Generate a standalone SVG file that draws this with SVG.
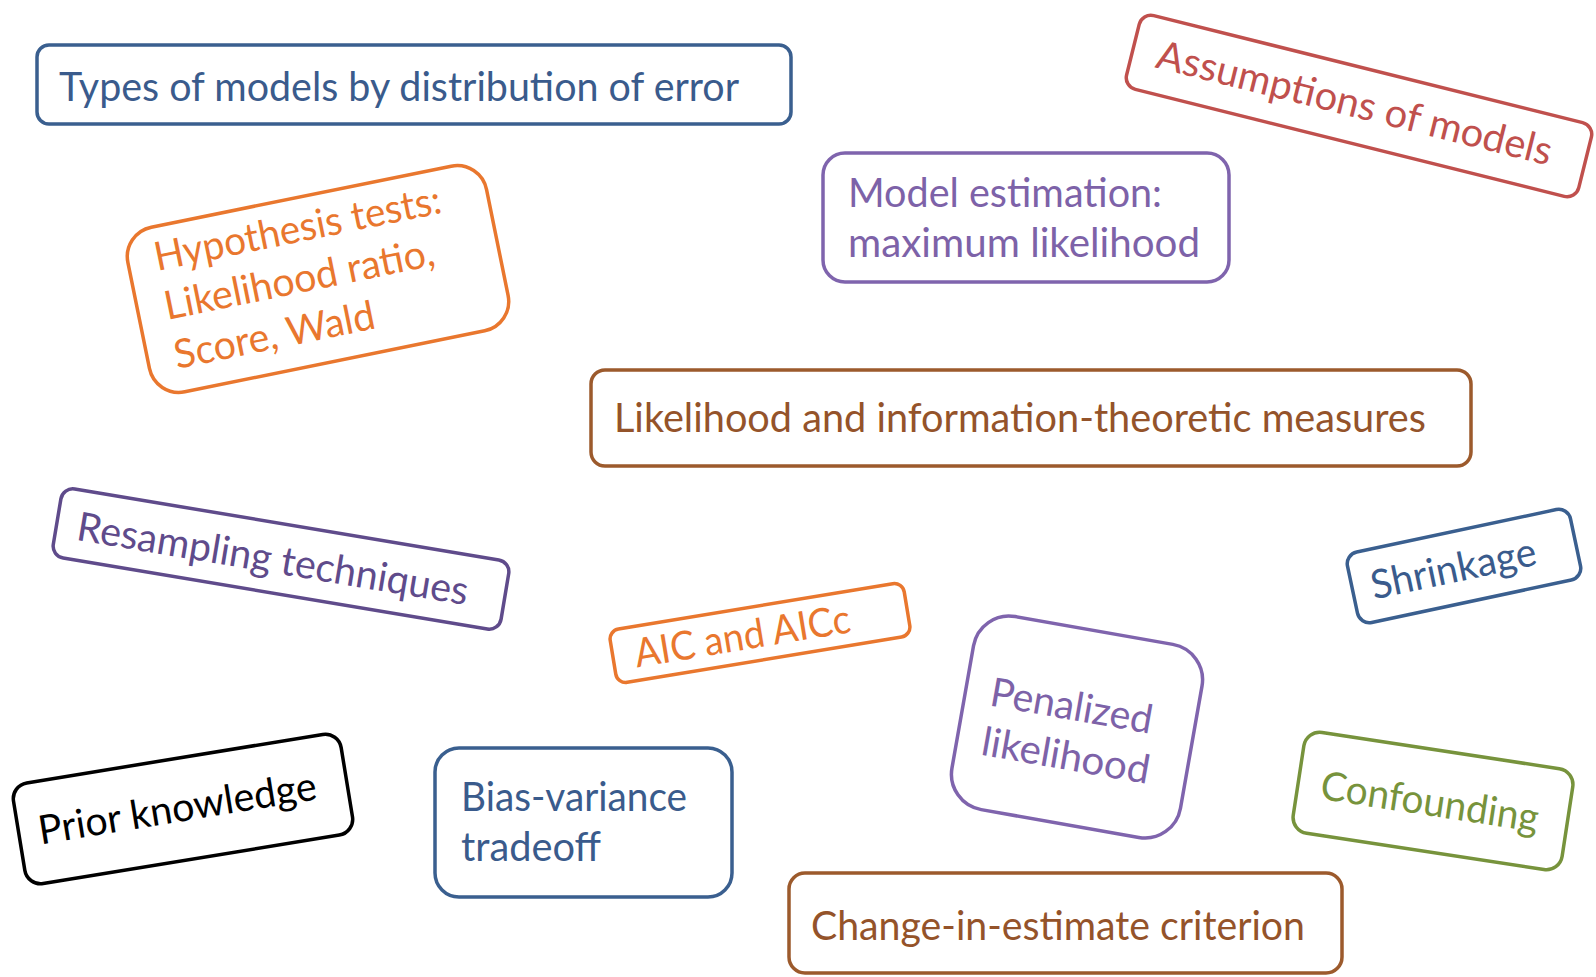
<svg xmlns="http://www.w3.org/2000/svg" width="1596" height="977" viewBox="0 0 1596 977">
  <style>
    .box { fill: #ffffff; stroke-width: 3.5; }
    .lbl { font-family: Lato, "Liberation Sans", sans-serif; font-size: 40px; }
    .blue   { stroke: #3a5f8f; } .t-blue   { fill: #3a5b8c; }
    .red    { stroke: #c0504d; } .t-red    { fill: #c0504d; }
    .orange { stroke: #e9772e; } .t-orange { fill: #e9772e; }
    .purple { stroke: #7f64ad; } .t-purple { fill: #7d62a8; }
    .grape  { stroke: #5f4b8b; } .t-grape  { fill: #5f4b8b; }
    .brown  { stroke: #9c5a2c; } .t-brown  { fill: #94532a; }
    .green  { stroke: #77933c; } .t-green  { fill: #77933c; }
    .black  { stroke: #000000; } .t-black  { fill: #000000; }
  </style>

  <rect x="0" y="0" width="1596" height="977" fill="#ffffff"/>

  <!-- no links between the topics -->
  <g id="connectors"/>

  <g id="types-of-models">
    <rect class="box blue" x="37" y="45" width="754" height="79" rx="12"/>
    <text class="lbl t-blue" x="59" y="101" textLength="680" lengthAdjust="spacingAndGlyphs">Types of models by distribution of error</text>
  </g>

  <g id="assumptions" transform="translate(1359,106) rotate(14)">
    <rect class="box red" x="-233" y="-38" width="466" height="76" rx="12"/>
    <text class="lbl t-red" x="-208" y="12" textLength="406" lengthAdjust="spacingAndGlyphs">Assumptions of models</text>
  </g>

  <g id="hypothesis-tests" transform="translate(318,279) rotate(-11.5)">
    <rect class="box orange" x="-183" y="-84" width="366" height="168" rx="30"/>
    <text class="lbl t-orange" x="-156" y="-40" textLength="292" lengthAdjust="spacingAndGlyphs">Hypothesis tests:</text>
    <text class="lbl t-orange" x="-156" y="10" textLength="275" lengthAdjust="spacingAndGlyphs">Likelihood ratio,</text>
    <text class="lbl t-orange" x="-156" y="60" textLength="204" lengthAdjust="spacingAndGlyphs">Score, Wald</text>
  </g>

  <g id="model-estimation">
    <rect class="box purple" x="823" y="153" width="406" height="129" rx="22"/>
    <text class="lbl t-purple" x="848" y="207" textLength="314" lengthAdjust="spacingAndGlyphs">Model estimation:</text>
    <text class="lbl t-purple" x="848" y="257" textLength="352" lengthAdjust="spacingAndGlyphs">maximum likelihood</text>
  </g>

  <g id="likelihood-measures">
    <rect class="box brown" x="591" y="370" width="880" height="96" rx="14"/>
    <text class="lbl t-brown" x="614" y="432" textLength="812" lengthAdjust="spacingAndGlyphs">Likelihood and information-theoretic measures</text>
  </g>

  <g id="resampling" transform="translate(281,559) rotate(9.5)">
    <rect class="box grape" x="-227" y="-35" width="454" height="70" rx="12"/>
    <text class="lbl t-grape" x="-206" y="15" textLength="396" lengthAdjust="spacingAndGlyphs">Resampling techniques</text>
  </g>

  <g id="aic" transform="translate(760,633) rotate(-9.4)">
    <rect class="box orange" x="-149" y="-27" width="298" height="54" rx="10"/>
    <text class="lbl t-orange" x="-127" y="14" textLength="218" lengthAdjust="spacingAndGlyphs">AIC and AICc</text>
  </g>

  <g id="shrinkage" transform="translate(1464,566) rotate(-12)">
    <rect class="box blue" x="-114" y="-36" width="228" height="72" rx="12"/>
    <text class="lbl t-blue" x="-95" y="14" textLength="168" lengthAdjust="spacingAndGlyphs">Shrinkage</text>
  </g>

  <g id="penalized-likelihood" transform="translate(1077,727) rotate(10)">
    <rect class="box purple" x="-116" y="-98" width="232" height="196" rx="36"/>
    <text class="lbl t-purple" x="-91" y="-6" textLength="164" lengthAdjust="spacingAndGlyphs">Penalized</text>
    <text class="lbl t-purple" x="-91" y="44" textLength="170" lengthAdjust="spacingAndGlyphs">likelihood</text>
  </g>

  <g id="prior-knowledge" transform="translate(183,809) rotate(-9.3)">
    <rect class="box black" x="-166" y="-51" width="332" height="102" rx="16"/>
    <text class="lbl t-black" x="-146" y="12" textLength="281" lengthAdjust="spacingAndGlyphs">Prior knowledge</text>
  </g>

  <g id="bias-variance">
    <rect class="box blue" x="435" y="748" width="297" height="149" rx="24"/>
    <text class="lbl t-blue" x="461" y="811" textLength="226" lengthAdjust="spacingAndGlyphs">Bias-variance</text>
    <text class="lbl t-blue" x="461" y="861" textLength="140" lengthAdjust="spacingAndGlyphs">tradeoff</text>
  </g>

  <g id="confounding" transform="translate(1433,801) rotate(8.7)">
    <rect class="box green" x="-136" y="-51" width="272" height="102" rx="16"/>
    <text class="lbl t-green" x="-113" y="15" textLength="220" lengthAdjust="spacingAndGlyphs">Confounding</text>
  </g>

  <g id="change-in-estimate">
    <rect class="box brown" x="789" y="873" width="553" height="100" rx="16"/>
    <text class="lbl t-brown" x="811" y="940" textLength="494" lengthAdjust="spacingAndGlyphs">Change-in-estimate criterion</text>
  </g>
</svg>
